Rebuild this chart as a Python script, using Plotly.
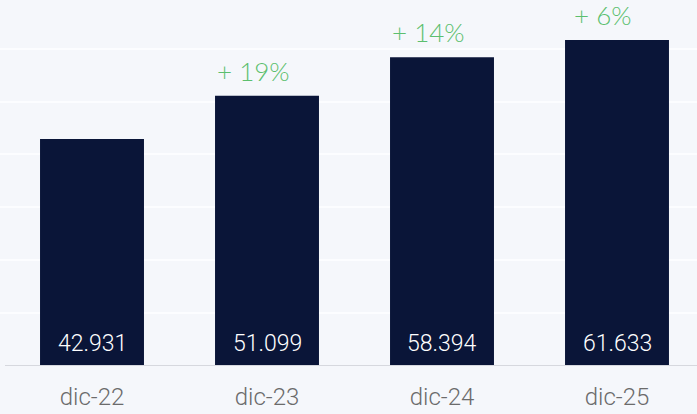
import plotly.graph_objects as go

categories = ["dic-22", "dic-23", "dic-24", "dic-25"]
values = [42931, 51099, 58394, 61633]
value_labels = ["42.931", "51.099", "58.394", "61.633"]
growth_labels = ["", "+ 19%", "+ 14%", "+ 6%"]

BAR = "#0a1538"
GREEN = "#5cbf6e"
BG = "#f5f7fb"

fig = go.Figure()
fig.add_trace(go.Bar(
    x=categories, y=values, marker=dict(color=BAR, line=dict(width=0)),
    width=0.594, hoverinfo="skip",
))

for c, vl in zip(categories, value_labels):
    fig.add_annotation(x=c, y=0, text=vl, showarrow=False, yanchor="bottom",
                       yshift=7, font=dict(family="Roboto, sans-serif", size=23,
                                           color="white", weight=300))

for c, v, g in zip(categories, values, growth_labels):
    if g:
        fig.add_annotation(x=c, y=v, text=g, showarrow=False, yanchor="bottom",
                           yshift=7, xshift=-14,
                           font=dict(family="Lato, sans-serif", size=26, color=GREEN, weight=300))

# baseline
fig.add_shape(type="line", xref="paper", yref="y", x0=5/697, x1=1, y0=0, y1=0,
              line=dict(color="#d6d8de", width=2))

fig.update_layout(
    width=697, height=414,
    margin=dict(l=0, r=0, t=0, b=48),
    paper_bgcolor=BG, plot_bgcolor=BG,
    showlegend=False,
    xaxis=dict(range=[-92/175, -92/175 + 697/175], showgrid=False, zeroline=False,
               showline=False, ticks="", automargin=False, ticklabelstandoff=14,
               tickfont=dict(family="Roboto, sans-serif", size=24, color="#6b6b6b", weight=300)),
    yaxis=dict(range=[0, 69196], showticklabels=False, dtick=10000, tick0=0, automargin=False,
               showgrid=True, gridcolor="#fcfdff", gridwidth=1.5, zeroline=False),
)

fig.write_html("out.html", config={"displayModeBar": False},
               post_script="document.body.style.margin='0';")
